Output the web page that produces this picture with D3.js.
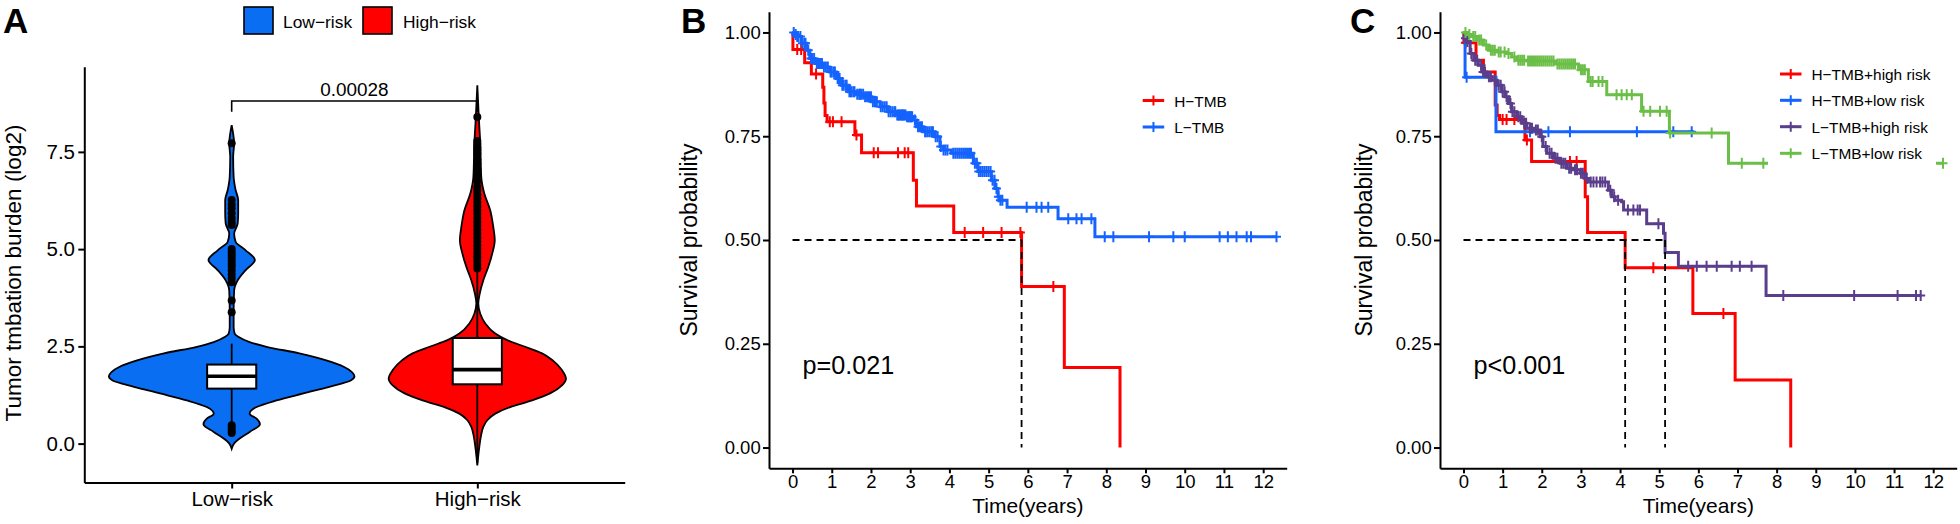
<!DOCTYPE html>
<html><head><meta charset="utf-8">
<script src="https://cdn.jsdelivr.net/npm/d3@7"></script>
<style>html,body{margin:0;padding:0;background:#fff;} svg{display:block;font-family:"Liberation Sans",Arial,Helvetica,sans-serif;}</style>
</head><body><svg id="c" width="1960" height="524"></svg>
<script>
// ================= Panel A data =================
const groupsA = ["Low−risk", "High−risk"];
const colorsA = ["#0A6EF2", "#FF0000"];
const tmbTicks = [0, 2.5, 5, 7.5];
// violin profiles: value (log2 TMB) and relative density (half width, 1 = widest)
const violinLowV = [8.19, 7.97, 7.72, 7.37, 6.86, 6.52, 6.26, 5.92, 5.66, 5.40, 5.19, 4.97, 4.72, 4.46, 4.20, 3.94, 3.43, 3.00, 2.83, 2.74, 2.61, 2.49, 2.32, 2.14, 1.97, 1.84, 1.73, 1.63, 1.46, 1.29, 1.11, 0.94, 0.77, 0.64, 0.50, 0.30, 0.13, 0.00, -0.13];
const violinLowD = [0, 0.012, 0.02, 0.012, 0.016, 0.032, 0.053, 0.053, 0.049, 0.02, 0.032, 0.114, 0.189, 0.114, 0.049, 0.02, 0.016, 0.016, 0.024, 0.057, 0.146, 0.284, 0.551, 0.77, 0.916, 0.979, 1.0, 0.973, 0.795, 0.584, 0.365, 0.203, 0.146, 0.203, 0.23, 0.146, 0.065, 0.019, 0];
const violinHighV = [9.21, 8.40, 7.72, 6.86, 6.43, 6.00, 5.57, 5.23, 4.89, 4.54, 4.20, 3.86, 3.60, 3.34, 3.09, 2.83, 2.66, 2.49, 2.32, 2.14, 1.89, 1.67, 1.50, 1.29, 1.11, 0.94, 0.77, 0.60, 0.43, 0.17, -0.09, -0.56];
const violinHighD = [0, 0.012, 0.024, 0.032, 0.057, 0.105, 0.13, 0.142, 0.122, 0.089, 0.049, 0.02, 0.008, 0.024, 0.065, 0.146, 0.243, 0.389, 0.527, 0.614, 0.689, 0.722, 0.689, 0.592, 0.446, 0.268, 0.146, 0.081, 0.049, 0.028, 0.016, 0];
// box stats: lower whisker, Q1, median, Q3, upper whisker
const boxLow = [0.49, 1.414, 1.731, 2.032, 2.57];
const boxHigh = [-0.5, 1.525, 1.903, 2.716, 4.45];
const outLow = [7.72, 6.26, 6.15, 6.05, 5.92, 5.80, 5.70, 5.62, 5.00, 4.92, 4.85, 4.78, 4.70, 4.62, 4.55, 4.45, 4.35, 4.25, 4.15, 3.68, 3.38, 0.47, 0.40, 0.33, 0.27];
const outHigh = [8.40, 7.78, 7.70, 7.62, 7.55, 7.45, 7.30, 7.20, 7.05, 6.90, 6.75, 6.60, 6.50, 6.40, 6.30, 6.20, 6.10, 6.00, 5.90, 5.80, 5.70, 5.60, 5.50, 5.40, 5.30, 5.20, 5.10, 5.00, 4.90, 4.80, 4.70, 4.60, 4.50];
const pValueA = "0.00028";
const bracketA = 8.81;

// ================= Panels B & C data =================
const timeTicks = [0, 1, 2, 3, 4, 5, 6, 7, 8, 9, 10, 11, 12];
const survTicks = [0, 0.25, 0.5, 0.75, 1];

const groupsB = ["H−TMB", "L−TMB"];
const colorsB = ["#FF0000", "#1463FF"];
const bRedT = [0.01, 0.31, 0.48, 0.77, 0.80, 0.83, 0.88, 1.59, 1.76, 3.08, 3.16, 4.11, 5.84, 6.93, 8.35];
const bRedS = [0.959, 0.927, 0.90, 0.868, 0.83, 0.80, 0.785, 0.753, 0.71, 0.644, 0.582, 0.518, 0.388, 0.193, 0.0];
const bRedEnd = 8.35;
const bRedC = [0.12, 0.22, 0.6, 0.95, 1.03, 1.25, 1.63, 2.07, 2.18, 2.69, 2.86, 2.95, 4.39, 4.86, 5.33, 5.81, 6.65];
const bBlueT = [0.05, 0.10, 0.23, 0.36, 0.44, 0.57, 0.78, 0.95, 1.12, 1.25, 1.42, 1.63, 1.84, 2.01, 2.23, 2.44, 2.65, 2.91, 3.08, 3.16, 3.33, 3.63, 3.76, 3.84, 4.05, 4.61, 4.73, 5.07, 5.16, 5.24, 5.29, 5.47, 6.77, 7.71];
const bBlueS = [0.995, 0.99, 0.974, 0.957, 0.937, 0.925, 0.917, 0.905, 0.889, 0.873, 0.857, 0.851, 0.845, 0.833, 0.821, 0.809, 0.801, 0.797, 0.789, 0.773, 0.761, 0.749, 0.725, 0.717, 0.709, 0.685, 0.665, 0.644, 0.624, 0.604, 0.596, 0.579, 0.551, 0.508];
const bBlueEnd = 12.34;
const bBlueC = [0.03, 0.08, 0.12, 0.14, 0.2, 0.25, 0.3, 0.33, 0.4, 0.47, 0.5, 0.55, 0.62, 0.65, 0.7, 0.75, 0.8, 0.85, 0.9, 0.97, 1.0, 1.05, 1.08, 1.15, 1.18, 1.2, 1.27, 1.3, 1.35, 1.38, 1.45, 1.48, 1.5, 1.55, 1.58, 1.65, 1.7, 1.72, 1.75, 1.8, 1.85, 1.9, 1.95, 2.0, 2.05, 2.1, 2.12, 2.15, 2.25, 2.3, 2.35, 2.4, 2.45, 2.5, 2.55, 2.6, 2.62, 2.67, 2.7, 2.72, 2.75, 2.78, 2.8, 2.82, 2.85, 2.88, 2.92, 2.95, 2.98, 3.0, 3.02, 3.05, 3.12, 3.2, 3.25, 3.3, 3.38, 3.4, 3.45, 3.5, 3.55, 3.58, 3.65, 3.7, 3.78, 3.85, 3.9, 3.95, 4.1, 4.15, 4.2, 4.25, 4.3, 4.35, 4.4, 4.45, 4.5, 4.55, 4.65, 4.7, 4.75, 4.8, 4.85, 4.9, 4.95, 5.0, 5.05, 5.1, 5.15, 5.2, 5.25, 5.3, 5.35, 5.97, 6.22, 6.35, 6.52, 7.03, 7.24, 7.37, 7.62, 7.96, 8.18, 9.09, 9.71, 10.0, 10.89, 11.1, 11.32, 11.58, 11.69, 12.34];
const mediansB = [5.84];
const pValueB = "p=0.021";

const groupsC = ["H−TMB+high risk", "H−TMB+low risk", "L−TMB+high risk", "L−TMB+low risk"];
const colorsC = ["#FF0000", "#1463FF", "#5A3E8C", "#6BBE47"];
const cRedT = [0.01, 0.32, 0.51, 0.81, 0.86, 0.92, 1.57, 1.74, 3.11, 3.17, 4.13, 5.86, 6.94, 8.36];
const cRedS = [0.975, 0.933, 0.905, 0.825, 0.80, 0.79, 0.741, 0.689, 0.604, 0.518, 0.433, 0.323, 0.163, 0.0];
const cRedEnd = 8.36;
const cRedC = [0.05, 1.0, 1.1, 1.3, 1.62, 2.72, 2.89, 4.85, 6.64];
const cBlueT = [0.04, 0.83];
const cBlueS = [0.892, 0.761];
const cBlueEnd = 5.89;
const cBlueC = [0.08, 1.70, 2.17, 2.72, 4.43, 5.36, 5.83];
const cPurT = [0.02, 0.08, 0.17, 0.26, 0.38, 0.47, 0.60, 0.72, 0.85, 0.98, 1.06, 1.15, 1.23, 1.36, 1.49, 1.62, 1.79, 1.96, 2.03, 2.13, 2.30, 2.47, 2.64, 2.81, 2.98, 3.11, 3.19, 3.70, 3.79, 3.87, 4.04, 4.09, 4.68, 5.11, 5.15, 5.49, 7.73];
const cPurS = [0.986, 0.978, 0.949, 0.933, 0.921, 0.905, 0.893, 0.885, 0.873, 0.857, 0.845, 0.829, 0.809, 0.797, 0.781, 0.769, 0.765, 0.749, 0.725, 0.709, 0.697, 0.685, 0.673, 0.669, 0.661, 0.648, 0.640, 0.620, 0.604, 0.596, 0.592, 0.572, 0.539, 0.516, 0.47, 0.437, 0.366];
const cPurEnd = 11.7;
const cPurC = [0.05, 0.1, 0.2, 0.3, 0.35, 0.45, 0.5, 0.55, 0.65, 0.7, 0.8, 0.9, 0.95, 1.0, 1.05, 1.1, 1.2, 1.25, 1.3, 1.4, 1.45, 1.55, 1.6, 1.7, 1.75, 1.85, 1.9, 2.0, 2.1, 2.2, 2.25, 2.35, 2.4, 2.5, 2.55, 2.6, 2.7, 2.75, 2.85, 2.9, 3.0, 3.05, 3.15, 3.25, 3.32, 3.4, 3.49, 3.55, 3.62, 3.75, 3.85, 3.95, 4.2, 4.34, 4.45, 4.51, 4.98, 5.74, 5.96, 6.21, 6.47, 6.85, 7.06, 7.36, 8.17, 9.98, 11.09, 11.56, 11.68];
const cGrnT = [0.1, 0.21, 0.34, 0.51, 0.64, 0.85, 1.11, 1.23, 1.36, 1.62, 2.35, 2.94, 3.19, 3.66, 4.55, 5.26, 6.77];
const cGrnS = [0.995, 0.99, 0.982, 0.97, 0.957, 0.953, 0.949, 0.941, 0.933, 0.931, 0.924, 0.91, 0.882, 0.85, 0.81, 0.758, 0.685];
const cGrnEnd = 12.25;
const cGrnC = [0.05, 0.15, 0.25, 0.3, 0.4, 0.45, 0.58, 0.7, 0.75, 0.8, 0.9, 0.95, 1.05, 1.15, 1.3, 1.4, 1.45, 1.5, 1.55, 1.65, 1.7, 1.75, 1.8, 1.85, 1.9, 1.95, 2.0, 2.05, 2.1, 2.15, 2.2, 2.25, 2.3, 2.4, 2.45, 2.5, 2.55, 2.6, 2.65, 2.7, 2.75, 2.8, 2.85, 3.0, 3.05, 3.1, 3.25, 3.3, 3.45, 3.55, 3.91, 4.04, 4.17, 4.3, 4.6, 4.77, 5.02, 5.19, 5.28, 6.34, 7.11, 7.66, 12.25];
const mediansC = [4.13, 5.15];
const pValueC = "p<0.001";

// ================= drawing =================
const svg = d3.select("#c");
const FONT = '"Liberation Sans",Arial,Helvetica,sans-serif';

function styleAxis(g, fs) {
  g.attr("font-size", fs).attr("font-family", FONT);
  g.select(".domain").attr("stroke", "#000").attr("stroke-width", 2);
  g.selectAll(".tick line").attr("stroke", "#000").attr("stroke-width", 2);
  g.selectAll(".tick text").attr("fill", "#000");
}

// ---------- Panel A ----------
(function () {
  const L = 84.3, R = 624.7, T = 66.7, B = 482.5;
  const x = d3.scalePoint().domain(groupsA).range([L, R]).padding(0.6);
  const y = d3.scaleLinear().domain([-1.0, 9.69]).range([B, T]);
  const w = d3.scaleLinear().domain([0, 1]).range([0, x.step() / 2]);
  const g = svg.append("g");

  const profiles = [d3.zip(violinLowV, violinLowD), d3.zip(violinHighV, violinHighD)];
  const boxes = [boxLow, boxHigh];
  const outs = [outLow, outHigh];
  const bw = x.step() * 0.2;

  groupsA.forEach((grp, i) => {
    const cx = x(grp);
    const area = d3.area().curve(d3.curveMonotoneY)
      .y(d => y(d[0])).x0(d => cx - w(d[1])).x1(d => cx + w(d[1]));
    g.append("path").attr("d", area(profiles[i]))
      .attr("fill", colorsA[i]).attr("stroke", "#000").attr("stroke-width", 1.8);
    const b = boxes[i];
    g.append("line").attr("x1", cx).attr("x2", cx).attr("y1", y(b[3])).attr("y2", y(b[4]))
      .attr("stroke", "#000").attr("stroke-width", 1.8);
    g.append("line").attr("x1", cx).attr("x2", cx).attr("y1", y(b[1])).attr("y2", y(b[0]))
      .attr("stroke", "#000").attr("stroke-width", 1.8);
    g.append("rect").attr("x", cx - bw / 2).attr("width", bw)
      .attr("y", y(b[3])).attr("height", y(b[1]) - y(b[3]))
      .attr("fill", "#fff").attr("stroke", "#000").attr("stroke-width", 2);
    g.append("line").attr("x1", cx - bw / 2).attr("x2", cx + bw / 2).attr("y1", y(b[2])).attr("y2", y(b[2]))
      .attr("stroke", "#000").attr("stroke-width", 3.6);
    g.selectAll(null).data(outs[i]).enter().append("circle")
      .attr("cx", cx).attr("cy", d => y(d)).attr("r", 4).attr("fill", "#000");
  });

  // bracket + p value
  const xl = x(groupsA[0]), xr = x(groupsA[1]), yb = y(bracketA);
  g.append("path").attr("d", `M${xl},${yb + 10.7}V${yb}H${xr}V${yb + 10.7}`)
    .attr("fill", "none").attr("stroke", "#000").attr("stroke-width", 1.6);
  g.append("text").attr("x", (xl + xr) / 2).attr("y", yb - 4.5).attr("text-anchor", "middle")
    .attr("font-size", 18.9).text(pValueA);

  const ax = g.append("g").attr("transform", `translate(${L},0)`)
    .call(d3.axisLeft(y).tickValues(tmbTicks).tickFormat(d3.format(".1f")).tickSize(6).tickPadding(3.3).tickSizeOuter(0));
  styleAxis(ax, 20.5);
  const bx = g.append("g").attr("transform", `translate(0,${B})`)
    .call(d3.axisBottom(x).tickSize(6).tickPadding(3.4).tickSizeOuter(0));
  styleAxis(bx, 20.5);

  g.append("text").attr("transform", `translate(21,273) rotate(-90)`).attr("text-anchor", "middle")
    .attr("font-size", 22.5).text("Tumor tmbation burden (log2)");

  // legend
  const lg = g.append("g");
  const keyX = [244, 363], txtX = [283, 403];
  groupsA.forEach((grp, i) => {
    lg.append("rect").attr("x", keyX[i]).attr("y", 7).attr("width", 29).attr("height", 27)
      .attr("fill", colorsA[i]).attr("stroke", "#000").attr("stroke-width", 1.6);
    lg.append("text").attr("x", txtX[i]).attr("y", 27.5).attr("font-size", 17.4).text(grp);
  });
  g.append("text").attr("x", 3).attr("y", 33).attr("font-size", 35).attr("font-weight", "bold").text("A");
})();

// ---------- KM helper ----------
function survAt(t, s, c) { let v = 1; for (let i = 0; i < t.length; i++) if (t[i] <= c) v = s[i]; return v; }

function drawKM(opts) {
  const { L, R, T, B, letter, letterX, curves, medians, pval, groups, colors, legX, legY, legBg, ylabX } = opts;
  const x = d3.scaleLinear().domain([-0.6, 12.6]).range([L, R]);
  const y = d3.scaleLinear().domain([-0.05, 1.05]).range([B, T]);
  const g = svg.append("g");
  const line = d3.line().curve(d3.curveStepAfter).x(d => x(d[0])).y(d => y(d[1]));

  curves.forEach((cv, i) => {
    const pts = [[0, 1]];
    cv.t.forEach((tt, k) => pts.push([tt, cv.s[k]]));
    if (cv.end > cv.t[cv.t.length - 1]) pts.push([cv.end, cv.s[cv.s.length - 1]]);
    g.append("path").attr("d", line(pts)).attr("fill", "none")
      .attr("stroke", colors[i]).attr("stroke-width", 3);
    g.selectAll(null).data(cv.c).enter().append("path")
      .attr("d", c => { const px = x(c), py = y(survAt(cv.t, cv.s, c)); return `M${px - 4.5},${py}H${px + 4.5}M${px},${py - 5.5}V${py + 5.5}`; })
      .attr("stroke", colors[i]).attr("stroke-width", 2).attr("fill", "none");
  });

  // median lines
  const mx = d3.max(medians);
  g.append("line").attr("x1", x(0)).attr("x2", x(mx)).attr("y1", y(0.5)).attr("y2", y(0.5))
    .attr("stroke", "#000").attr("stroke-width", 1.8).attr("stroke-dasharray", "7,5");
  medians.forEach(m => {
    g.append("line").attr("x1", x(m)).attr("x2", x(m)).attr("y1", y(0.5)).attr("y2", y(0))
      .attr("stroke", "#000").attr("stroke-width", 1.8).attr("stroke-dasharray", "7,5");
  });

  const ax = g.append("g").attr("transform", `translate(${L},0)`)
    .call(d3.axisLeft(y).tickValues(survTicks).tickFormat(d3.format(".2f")).tickSize(6).tickPadding(2.3).tickSizeOuter(0));
  styleAxis(ax, 18.5);
  const bx = g.append("g").attr("transform", `translate(0,${B})`)
    .call(d3.axisBottom(x).tickValues(timeTicks).tickFormat(d3.format("d")).tickSize(5).tickPadding(1.8).tickSizeOuter(0));
  styleAxis(bx, 18.5);

  g.append("text").attr("transform", `translate(${ylabX},${(T + B) / 2}) rotate(-90)`).attr("text-anchor", "middle")
    .attr("font-size", 23).text("Survival probability");
  g.append("text").attr("x", (L + R) / 2).attr("y", 513).attr("text-anchor", "middle")
    .attr("font-size", 21).text("Time(years)");
  g.append("text").attr("x", x(0.255)).attr("y", 374).attr("font-size", 25.2).text(pval);

  // legend
  const lg = g.append("g");
  if (legBg) lg.append("rect").attr("x", legBg[0]).attr("y", legBg[1]).attr("width", legBg[2]).attr("height", legBg[3]).attr("fill", "#fff");
  groups.forEach((grp, i) => {
    const yy = legY[i];
    lg.append("line").attr("x1", legX).attr("x2", legX + 21.5).attr("y1", yy).attr("y2", yy)
      .attr("stroke", colors[i]).attr("stroke-width", 3);
    lg.append("path").attr("d", `M${legX + 6},${yy}H${legX + 15.5}M${legX + 10.75},${yy - 5}V${yy + 5}`)
      .attr("stroke", colors[i]).attr("stroke-width", 2);
    lg.append("text").attr("x", legX + 31.5).attr("y", yy + 6).attr("font-size", 15.4).text(grp);
  });
  g.append("text").attr("x", letterX).attr("y", 32.5).attr("font-size", 35).attr("font-weight", "bold").text(letter);
}

drawKM({
  L: 769, R: 1286.7, T: 11.7, B: 468.3, letter: "B", letterX: 681, ylabX: 697,
  curves: [
    { t: bRedT, s: bRedS, end: bRedEnd, c: bRedC },
    { t: bBlueT, s: bBlueS, end: bBlueEnd, c: bBlueC }
  ],
  medians: mediansB, pval: pValueB, groups: groupsB, colors: colorsB,
  legX: 1142.7, legY: [100.5, 127], legBg: null
});

drawKM({
  L: 1440, R: 1956.7, T: 11.7, B: 468.3, letter: "C", letterX: 1350, ylabX: 1372,
  curves: [
    { t: cRedT, s: cRedS, end: cRedEnd, c: cRedC },
    { t: cBlueT, s: cBlueS, end: cBlueEnd, c: cBlueC },
    { t: cPurT, s: cPurS, end: cPurEnd, c: cPurC },
    { t: cGrnT, s: cGrnS, end: cGrnEnd, c: cGrnC }
  ],
  medians: mediansC, pval: pValueC, groups: groupsC, colors: colorsC,
  legX: 1780, legY: [74, 100.3, 126.7, 153.3], legBg: [1768, 60.5, 168, 106.5]
});
</script></body></html>
